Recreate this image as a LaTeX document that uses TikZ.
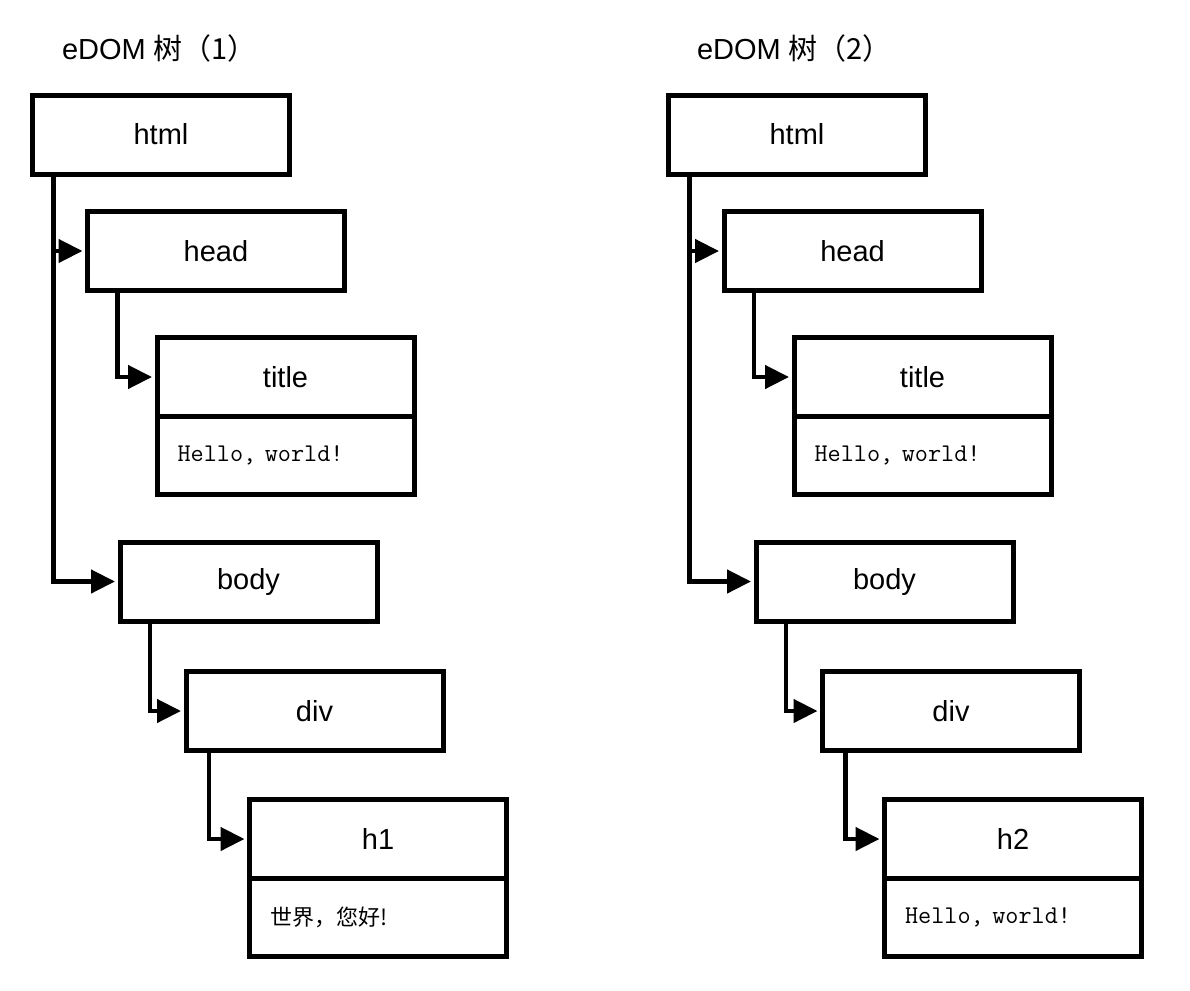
\documentclass[tikz,border=0pt]{standalone}
\usepackage{fontspec}
\setmainfont{Liberation Sans}
\newfontfamily\cjk{Noto Sans CJK SC}
\usetikzlibrary{positioning, arrows.meta}

\begin{document}
\begin{tikzpicture}
	[x=1pt, y=-1pt, on grid, outer sep=0pt,
	 box/.style={draw, line width=5pt, minimum width=257pt, minimum height=79pt, font=\fontsize{29}{34}\selectfont},
	 txtbox/.style={draw, line width=5pt, minimum height=78pt, text width=216pt, inner xsep=20.5pt, anchor=north},
	 code/.style={txtbox, font=\ttfamily\fontsize{25.5}{28}\selectfont},
	 zh/.style={txtbox, font=\cjk\fontsize{22}{26}\selectfont},
	 conn/.style={line width=4.5pt, shorten >=5pt, -{Triangle[length=24pt,width=23pt]}},
	 treename/.style={anchor=west, inner sep=0pt, font=\fontsize{29}{34}\selectfont}]
   \useasboundingbox (0,0) rectangle (1190,990);
   % tree 1
   \node[treename] (name_1) at (62,48) {eDOM {\cjk 树（1）}};
   \node[box] (html_1) at (161,134.5) {html};
   \node[box] (head_1) [below right=116.5pt and 55pt of html_1] {head};
   \node[box] (title_1) [below right=126pt and 69.5pt of head_1] {title};
   \node[code] (text_1) at (title_1.south) {Hello, world!};
   \node[box] (body_1) [below right=447pt and 87.5pt of html_1] {body};
   \node[box] (div_1) [below right=129.5pt and 66pt of body_1] {div};
   \node[box] (h_1) [below right=128pt and 63.5pt of div_1] {h1};
   \node[zh] (htext_1) at (h_1.south) {世界，您好!};
   % tree 2
   \node[treename] (name_2) at (697,48) {eDOM {\cjk 树（2）}};
   \node[box] (html_2) at (797,134.5) {html};
   \node[box] (head_2) [below right=116.5pt and 55.5pt of html_2] {head};
   \node[box] (title_2) [below right=126pt and 70pt of head_2] {title};
   \node[code] (text_2) at (title_2.south) {Hello, world!};
   \node[box] (body_2) [below right=447pt and 87.5pt of html_2] {body};
   \node[box] (div_2) [below right=129.5pt and 66.5pt of body_2] {div};
   \node[box] (h_2) [below right=128pt and 62pt of div_2] {h2};
   \node[code] (htext_2) at (h_2.south) {Hello, world!};
   % child links
   \draw[conn] ([xshift=21pt]html_1.south west) |- (head_1.west);
   \draw[conn] ([xshift=21pt]html_1.south west) |- (body_1.west);
   \draw[conn] ([xshift=30pt]head_1.south west) |- (title_1.west);
   \draw[conn] ([xshift=30pt]body_1.south west) |- (div_1.west);
   \draw[conn] ([xshift=23pt]div_1.south west) |- (h_1.west);
   \draw[conn] ([xshift=21pt]html_2.south west) |- (head_2.west);
   \draw[conn] ([xshift=21pt]html_2.south west) |- (body_2.west);
   \draw[conn] ([xshift=30pt]head_2.south west) |- (title_2.west);
   \draw[conn] ([xshift=30pt]body_2.south west) |- (div_2.west);
   \draw[conn] ([xshift=23pt]div_2.south west) |- (h_2.west);
\end{tikzpicture}
\end{document}
